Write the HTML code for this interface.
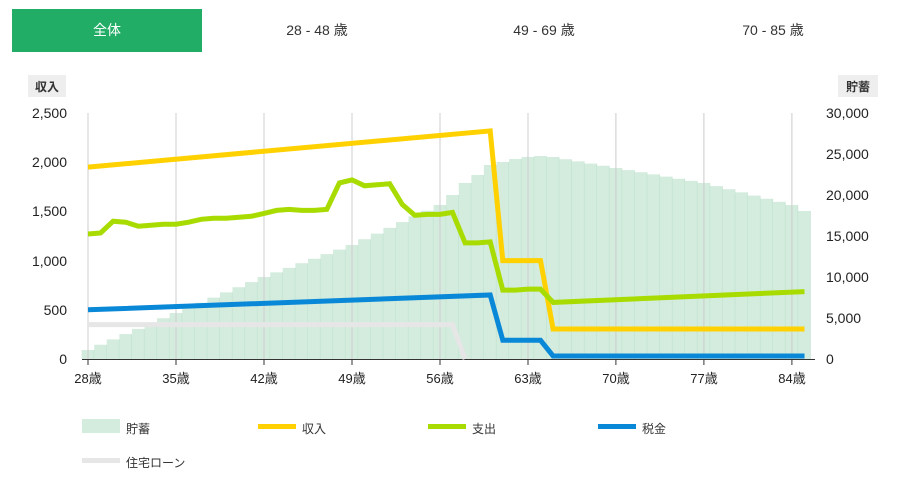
<!DOCTYPE html>
<html><head><meta charset="utf-8"><style>
body{margin:0;width:900px;height:479px;background:#fff;font-family:"Liberation Sans","Noto Sans CJK JP",sans-serif;overflow:hidden;position:relative}
.tab{position:absolute;top:9px;height:43px;line-height:43px;text-align:center;font-size:14px;color:#333}
.lg{position:absolute;font-size:12px;color:#333}
.sw{position:absolute;width:38px;height:14px}
svg text{font-family:"Liberation Sans","Noto Sans CJK JP",sans-serif}
</style></head><body>
<div class="tab" style="left:12px;width:190px;background:#21ad65;color:#fff">全体</div>
<div class="tab" style="left:222px;width:190px">28 - 48 歳</div>
<div class="tab" style="left:449px;width:190px">49 - 69 歳</div>
<div class="tab" style="left:678px;width:190px">70 - 85 歳</div>
<svg width="900" height="479" style="position:absolute;left:0;top:0">
<defs><pattern id="p" patternUnits="userSpaceOnUse" x="81.7" y="0" width="12.57" height="479"><rect width="12.57" height="479" fill="#d3ecde"/><rect x="11.9" width="0.8" height="479" fill="#c2e2cf"/></pattern></defs>
<rect x="28" y="75" width="38" height="22" fill="#eee"/><text x="47" y="91" font-size="12" font-weight="bold" text-anchor="middle" fill="#333">収入</text>
<rect x="838" y="75" width="40" height="22" fill="#eee"/><text x="858" y="91" font-size="12" font-weight="bold" text-anchor="middle" fill="#333">貯蓄</text>
<g font-size="14" fill="#222" text-anchor="end">
<text x="67" y="364">0</text><text x="67" y="315">500</text><text x="67" y="266">1,000</text><text x="67" y="216">1,500</text><text x="67" y="167">2,000</text><text x="67" y="118">2,500</text></g>
<g font-size="14" fill="#222">
<text x="826" y="364">0</text><text x="826" y="323">5,000</text><text x="826" y="282">10,000</text><text x="826" y="241">15,000</text><text x="826" y="200">20,000</text><text x="826" y="159">25,000</text><text x="826" y="118">30,000</text></g>
<polygon fill="url(#p)" points="81.7,359 81.7,350 94.3,350 94.3,344.7 106.8,344.7 106.8,339.4 119.4,339.4 119.4,334.1 132,334.1 132,328.9 144.6,328.9 144.6,323.6 157.1,323.6 157.1,318.3 169.7,318.3 169.7,313 182.3,313 182.3,307.9 194.8,307.9 194.8,302.7 207.4,302.7 207.4,297.6 220,297.6 220,292.4 232.5,292.4 232.5,287.3 245.1,287.3 245.1,282.1 257.7,282.1 257.7,277 270.3,277 270.3,272.4 282.8,272.4 282.8,267.9 295.4,267.9 295.4,263.3 308,263.3 308,258.7 320.5,258.7 320.5,254.1 333.1,254.1 333.1,249.6 345.7,249.6 345.7,245 358.2,245 358.2,239.3 370.8,239.3 370.8,233.6 383.4,233.6 383.4,227.9 396,227.9 396,222.1 408.5,222.1 408.5,216.4 421.1,216.4 421.1,210.7 433.7,210.7 433.7,205 446.2,205 446.2,195 458.8,195 458.8,183 471.4,183 471.4,175 483.9,175 483.9,165 496.5,165 496.5,162 509.1,162 509.1,159 521.7,159 521.7,157 534.2,157 534.2,156 546.8,156 546.8,157 559.4,157 559.4,159.2 571.9,159.2 571.9,161.4 584.5,161.4 584.5,163.6 597.1,163.6 597.1,165.8 609.6,165.8 609.6,168 622.2,168 622.2,170.1 634.8,170.1 634.8,172.3 647.4,172.3 647.4,174.4 659.9,174.4 659.9,176.6 672.5,176.6 672.5,178.7 685.1,178.7 685.1,180.9 697.6,180.9 697.6,183 710.2,183 710.2,186.1 722.8,186.1 722.8,189.3 735.3,189.3 735.3,192.4 747.9,192.4 747.9,195.6 760.5,195.6 760.5,198.7 773.1,198.7 773.1,201.9 785.6,201.9 785.6,205 798.2,205 798.2,211 810.8,211 810.8,359"/>
<g stroke="#ccc" stroke-width="1">
<line x1="88" y1="113" x2="88" y2="359"/><line x1="176" y1="113" x2="176" y2="359"/><line x1="264" y1="113" x2="264" y2="359"/><line x1="352" y1="113" x2="352" y2="359"/><line x1="440" y1="113" x2="440" y2="359"/><line x1="528" y1="113" x2="528" y2="359"/><line x1="615.9" y1="113" x2="615.9" y2="359"/><line x1="703.9" y1="113" x2="703.9" y2="359"/><line x1="791.9" y1="113" x2="791.9" y2="359"/></g>
<g stroke="#333" stroke-width="1">
<line x1="82" y1="359.5" x2="815" y2="359.5"/>
<line x1="88" y1="359" x2="88" y2="365"/><line x1="176" y1="359" x2="176" y2="365"/><line x1="264" y1="359" x2="264" y2="365"/><line x1="352" y1="359" x2="352" y2="365"/><line x1="440" y1="359" x2="440" y2="365"/><line x1="528" y1="359" x2="528" y2="365"/><line x1="615.9" y1="359" x2="615.9" y2="365"/><line x1="703.9" y1="359" x2="703.9" y2="365"/><line x1="791.9" y1="359" x2="791.9" y2="365"/></g>
<g font-size="13" fill="#222" text-anchor="middle">
<text x="88" y="383">28歳</text><text x="176" y="383">35歳</text><text x="264" y="383">42歳</text><text x="352" y="383">49歳</text><text x="440" y="383">56歳</text><text x="528" y="383">63歳</text><text x="616" y="383">70歳</text><text x="704" y="383">77歳</text><text x="792" y="383">84歳</text></g>
<g fill="none" stroke-width="5">
<polyline stroke="#e6e6e6" points="88,324.6 452.5,324.6 465.1,359"/>
<polyline stroke="#ffd100" points="88,167.1 490.2,130.9 502.8,260.6 540.5,260.6 553.1,329 804.5,329"/>
<polyline stroke="#a8dc00" points="88,234 100.6,233 113.1,221.2 125.7,222.2 138.3,226.2 150.9,225.2 163.4,224.2 176,224.2 188.6,222.2 201.1,219.3 213.7,218.3 226.3,218.3 238.8,217.3 251.4,216.3 264,213.4 276.6,210.4 289.1,209.4 301.7,210.4 314.3,210.4 326.8,209.4 339.4,182.9 352,179.9 364.5,185.8 377.1,184.8 389.7,183.8 402.3,204.5 414.8,215.3 427.4,214.4 440,214.4 452.5,212.4 465.1,242.9 477.7,242.9 490.2,241.9 502.8,290.1 515.4,290.1 528,289.1 540.5,289.1 553.1,302.4 804.5,291.6"/>
<polyline stroke="#0a88d8" points="88,309.8 490.2,295 502.8,340.3 540.5,340.3 553.1,356 804.5,356"/>
</g>
</svg>
<div class="sw" style="left:82px;top:419px;background:#d3ecde"></div><div class="lg" style="left:126px;top:420px">貯蓄</div>
<div class="sw" style="left:258px;top:424px;height:5px;background:#ffd100"></div><div class="lg" style="left:302px;top:420px">収入</div>
<div class="sw" style="left:428px;top:424px;height:5px;background:#a8dc00"></div><div class="lg" style="left:472px;top:420px">支出</div>
<div class="sw" style="left:598px;top:424px;height:5px;background:#0a88d8"></div><div class="lg" style="left:642px;top:420px">税金</div>
<div class="sw" style="left:82px;top:458px;height:5px;background:#e6e6e6"></div><div class="lg" style="left:126px;top:454px">住宅ローン</div>
</body></html>
